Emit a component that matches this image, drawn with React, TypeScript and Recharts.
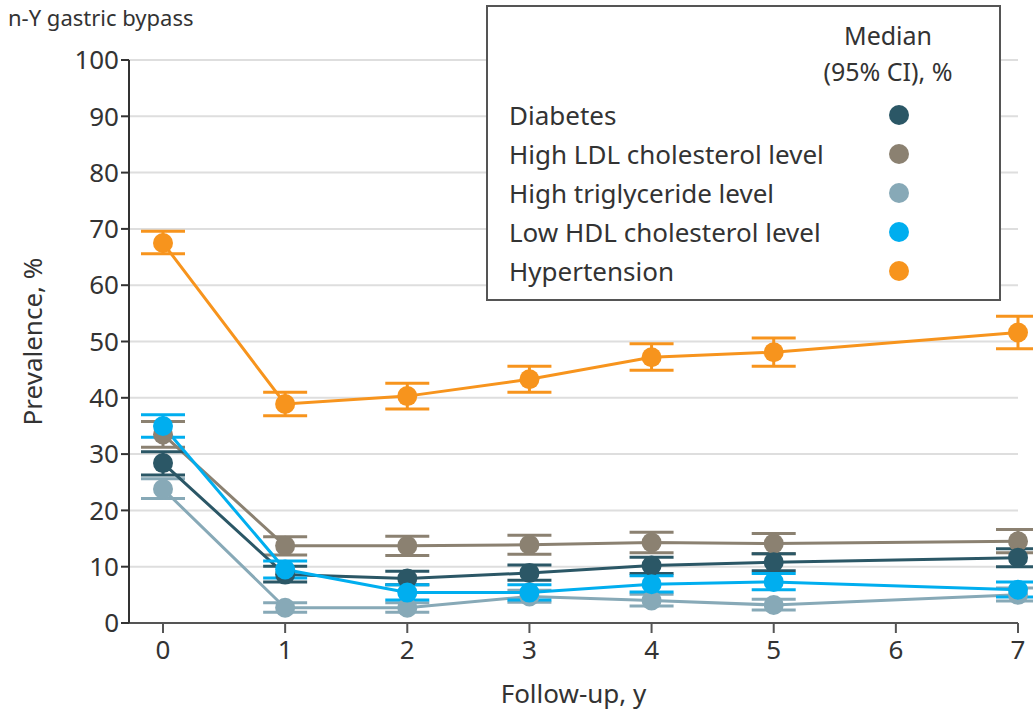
import React from 'react';
import { LineChart, Line, XAxis, YAxis, CartesianGrid, ErrorBar } from 'recharts';

const years = [0, 1, 2, 3, 4, 5, 7];

const diabetes = [28.4, 8.6, 7.9, 8.9, 10.2, 10.8, 11.6];
const diabetesLow = [26.3, 7.3, 6.8, 7.6, 8.8, 9.3, 10.0];
const diabetesHigh = [30.4, 10.1, 9.2, 10.3, 11.7, 12.3, 13.2];

const ldl = [33.5, 13.7, 13.7, 13.9, 14.3, 14.1, 14.5];
const ldlLow = [31.2, 12.1, 12.0, 12.2, 12.5, 12.3, 12.5];
const ldlHigh = [35.8, 15.3, 15.4, 15.6, 16.1, 15.9, 16.6];

const trig = [23.8, 2.7, 2.7, 4.7, 4.0, 3.2, 5.0];
const trigLow = [22.1, 1.9, 1.9, 3.7, 3.0, 2.3, 3.9];
const trigHigh = [25.6, 3.6, 3.6, 5.8, 5.1, 4.2, 6.2];

const hdl = [35.0, 9.5, 5.4, 5.4, 6.9, 7.3, 5.9];
const hdlLow = [33.0, 8.0, 4.1, 4.1, 5.5, 5.9, 4.6];
const hdlHigh = [37.0, 11.0, 6.8, 6.8, 8.4, 8.8, 7.3];

const hyp = [67.5, 38.9, 40.3, 43.3, 47.2, 48.1, 51.6];
const hypLow = [65.6, 36.8, 38.0, 41.0, 44.9, 45.6, 48.7];
const hypHigh = [69.6, 41.0, 42.6, 45.6, 49.6, 50.6, 54.5];

const yTicks = [0, 10, 20, 30, 40, 50, 60, 70, 80, 90, 100];
const xTicks = [0, 1, 2, 3, 4, 5, 6, 7];

const FONT = "'Noto Sans', sans-serif";
const TEXT = '#333';

const series = [
  { key: 'trig', name: 'High triglyceride level', color: '#87a9b7', values: trig, low: trigLow, high: trigHigh },
  { key: 'ldl', name: 'High LDL cholesterol level', color: '#8b8171', values: ldl, low: ldlLow, high: ldlHigh },
  { key: 'diabetes', name: 'Diabetes', color: '#2b5766', values: diabetes, low: diabetesLow, high: diabetesHigh },
  { key: 'hdl', name: 'Low HDL cholesterol level', color: '#00aeef', values: hdl, low: hdlLow, high: hdlHigh },
  { key: 'hyp', name: 'Hypertension', color: '#f7941d', values: hyp, low: hypLow, high: hypHigh },
];

const legendOrder = ['diabetes', 'ldl', 'trig', 'hdl', 'hyp'];

const data = years.map((year, i) => {
  const row: Record<string, any> = { year };
  series.forEach((s) => {
    row[s.key] = s.values[i];
    row[s.key + 'Err'] = [s.values[i] - s.low[i], s.high[i] - s.values[i]];
  });
  return row;
});

function Legendbox() {
  return (
    <div
      style={{
        position: 'absolute',
        left: 486,
        top: 5,
        width: 511,
        height: 292,
        border: '2px solid #555',
        background: '#fff',
        fontFamily: FONT,
        fontSize: 26,
        color: TEXT,
      }}
    >
      <div style={{ position: 'absolute', left: 310, width: 180, top: 10, textAlign: 'center', lineHeight: '36px', fontSize: 25 }}>
        Median
        <br />
        (95% CI), %
      </div>
      {legendOrder.map((k, i) => {
        const s = series.find((x) => x.key === k)!;
        return (
          <div key={k} style={{ position: 'absolute', left: 21, top: 90 + i * 39, height: 36, lineHeight: '36px', width: 480 }}>
            {s.name}
            <span
              style={{
                position: 'absolute',
                left: 380,
                top: 8,
                width: 20,
                height: 20,
                borderRadius: 10,
                background: s.color,
              }}
            />
          </div>
        );
      })}
    </div>
  );
}

export default function App() {
  return (
    <div style={{ position: 'absolute', left: 0, top: 0, width: 1033, height: 715, background: '#fff', overflow: 'hidden' }}>
      <div style={{ position: 'absolute', left: 8, top: 3, lineHeight: '28px', fontFamily: FONT, fontSize: 22, color: TEXT }}>
        n-Y gastric bypass
      </div>
      <LineChart width={1033} height={715} data={data} margin={{ top: 60, right: 15, bottom: 0, left: 49 }}>
        <CartesianGrid vertical={false} stroke="#dedede" strokeWidth={2} />
        <XAxis
          dataKey="year"
          type="number"
          domain={[0, 7]}
          ticks={xTicks}
          padding={{ left: 34, right: 0 }}
          height={92}
          stroke="#555"
          strokeWidth={2}
          tickSize={10}
          tick={{ fill: TEXT, fontSize: 26, fontFamily: FONT, dy: 6 }}
          label={{ value: 'Follow-up, y', position: 'insideBottom', offset: 12, fill: TEXT, fontSize: 26, fontFamily: FONT }}
        />
        <YAxis
          domain={[0, 100]}
          ticks={yTicks}
          width={80}
          stroke="#333"
          strokeWidth={2}
          tickSize={8}
          tick={{ fill: TEXT, fontSize: 26, fontFamily: FONT }}
          label={{ value: 'Prevalence, %', angle: -90, position: 'insideLeft', offset: -16, fill: TEXT, fontSize: 26, fontFamily: FONT, style: { textAnchor: 'middle' } }}
        />
        {series.map((s) => (
          <Line
            key={s.key}
            dataKey={s.key}
            name={s.name}
            type="linear"
            stroke={s.color}
            strokeWidth={3}
            dot={{ r: 10, fill: s.color, stroke: 'none' }}
            isAnimationActive={false}
          >
            <ErrorBar dataKey={s.key + 'Err'} width={22} stroke={s.color} strokeWidth={3} />
          </Line>
        ))}
      </LineChart>
      <Legendbox />
    </div>
  );
}
